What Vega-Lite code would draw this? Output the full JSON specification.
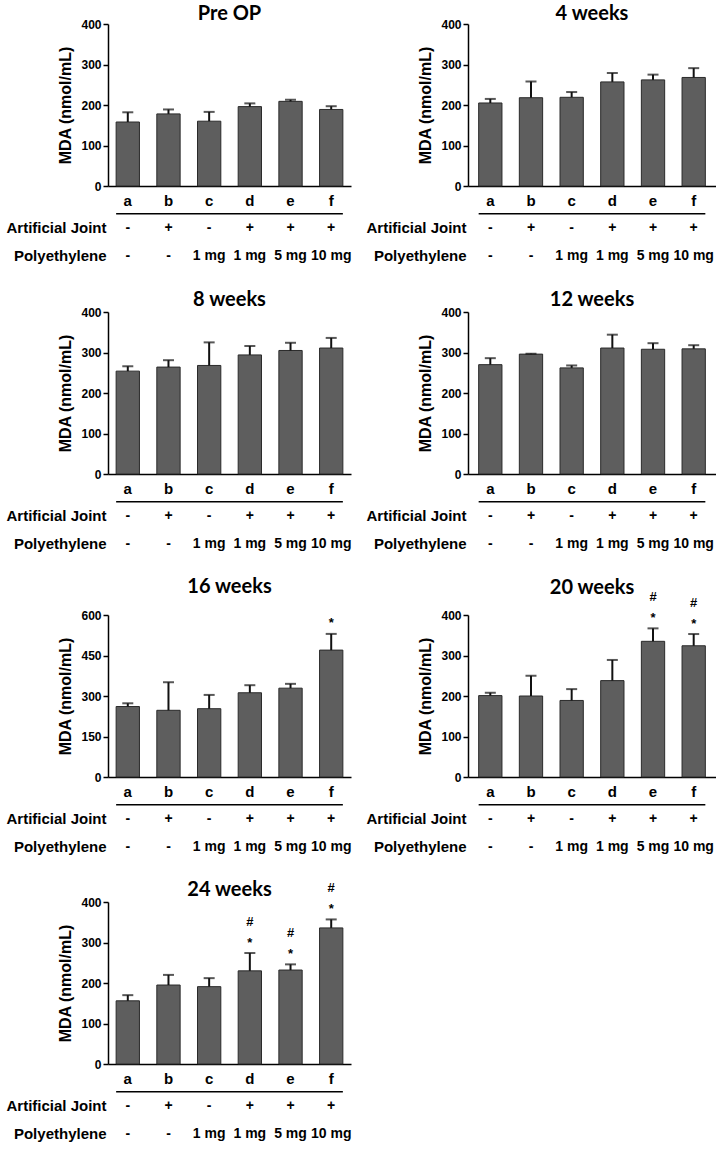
{
  "$schema": "https://vega.github.io/schema/vega-lite/v6.json",
  "padding": {"left": 5, "top": 3, "right": 2, "bottom": 5},
  "background": "white",
  "datasets": {
    "bars": [
      {"panel": "Pre OP", "group": "a", "mean": 158, "hi": 182, "star": "", "hash": ""},
      {"panel": "Pre OP", "group": "b", "mean": 178, "hi": 189, "star": "", "hash": ""},
      {"panel": "Pre OP", "group": "c", "mean": 160, "hi": 183, "star": "", "hash": ""},
      {"panel": "Pre OP", "group": "d", "mean": 196, "hi": 204, "star": "", "hash": ""},
      {"panel": "Pre OP", "group": "e", "mean": 209, "hi": 213, "star": "", "hash": ""},
      {"panel": "Pre OP", "group": "f", "mean": 189, "hi": 197, "star": "", "hash": ""},
      {"panel": "4 weeks", "group": "a", "mean": 205, "hi": 215, "star": "", "hash": ""},
      {"panel": "4 weeks", "group": "b", "mean": 218, "hi": 258, "star": "", "hash": ""},
      {"panel": "4 weeks", "group": "c", "mean": 219, "hi": 232, "star": "", "hash": ""},
      {"panel": "4 weeks", "group": "d", "mean": 257, "hi": 279, "star": "", "hash": ""},
      {"panel": "4 weeks", "group": "e", "mean": 262, "hi": 275, "star": "", "hash": ""},
      {"panel": "4 weeks", "group": "f", "mean": 268, "hi": 291, "star": "", "hash": ""},
      {"panel": "8 weeks", "group": "a", "mean": 254, "hi": 266, "star": "", "hash": ""},
      {"panel": "8 weeks", "group": "b", "mean": 264, "hi": 281, "star": "", "hash": ""},
      {"panel": "8 weeks", "group": "c", "mean": 268, "hi": 325, "star": "", "hash": ""},
      {"panel": "8 weeks", "group": "d", "mean": 294, "hi": 316, "star": "", "hash": ""},
      {"panel": "8 weeks", "group": "e", "mean": 305, "hi": 324, "star": "", "hash": ""},
      {"panel": "8 weeks", "group": "f", "mean": 311, "hi": 336, "star": "", "hash": ""},
      {"panel": "12 weeks", "group": "a", "mean": 270, "hi": 286, "star": "", "hash": ""},
      {"panel": "12 weeks", "group": "b", "mean": 296, "hi": 297, "star": "", "hash": ""},
      {"panel": "12 weeks", "group": "c", "mean": 262, "hi": 268, "star": "", "hash": ""},
      {"panel": "12 weeks", "group": "d", "mean": 311, "hi": 344, "star": "", "hash": ""},
      {"panel": "12 weeks", "group": "e", "mean": 308, "hi": 323, "star": "", "hash": ""},
      {"panel": "12 weeks", "group": "f", "mean": 309, "hi": 318, "star": "", "hash": ""},
      {"panel": "16 weeks", "group": "a", "mean": 261, "hi": 273, "star": "", "hash": ""},
      {"panel": "16 weeks", "group": "b", "mean": 247, "hi": 351, "star": "", "hash": ""},
      {"panel": "16 weeks", "group": "c", "mean": 253, "hi": 304, "star": "", "hash": ""},
      {"panel": "16 weeks", "group": "d", "mean": 312, "hi": 340, "star": "", "hash": ""},
      {"panel": "16 weeks", "group": "e", "mean": 329, "hi": 345, "star": "", "hash": ""},
      {"panel": "16 weeks", "group": "f", "mean": 470, "hi": 530, "star": "*", "hash": ""},
      {"panel": "20 weeks", "group": "a", "mean": 201, "hi": 208, "star": "", "hash": ""},
      {"panel": "20 weeks", "group": "b", "mean": 200, "hi": 250, "star": "", "hash": ""},
      {"panel": "20 weeks", "group": "c", "mean": 189, "hi": 217, "star": "", "hash": ""},
      {"panel": "20 weeks", "group": "d", "mean": 238, "hi": 289, "star": "", "hash": ""},
      {"panel": "20 weeks", "group": "e", "mean": 335, "hi": 367, "star": "*", "hash": "#"},
      {"panel": "20 weeks", "group": "f", "mean": 324, "hi": 353, "star": "*", "hash": "#"},
      {"panel": "24 weeks", "group": "a", "mean": 156, "hi": 170, "star": "", "hash": ""},
      {"panel": "24 weeks", "group": "b", "mean": 195, "hi": 220, "star": "", "hash": ""},
      {"panel": "24 weeks", "group": "c", "mean": 191, "hi": 212, "star": "", "hash": ""},
      {"panel": "24 weeks", "group": "d", "mean": 230, "hi": 274, "star": "*", "hash": "#"},
      {"panel": "24 weeks", "group": "e", "mean": 232, "hi": 246, "star": "*", "hash": "#"},
      {"panel": "24 weeks", "group": "f", "mean": 336, "hi": 357, "star": "*", "hash": "#"}
    ],
    "table": [
      {"group": "a", "row": "Artificial Joint", "val": "-"},
      {"group": "b", "row": "Artificial Joint", "val": "+"},
      {"group": "c", "row": "Artificial Joint", "val": "-"},
      {"group": "d", "row": "Artificial Joint", "val": "+"},
      {"group": "e", "row": "Artificial Joint", "val": "+"},
      {"group": "f", "row": "Artificial Joint", "val": "+"},
      {"group": "a", "row": "Polyethylene", "val": "-"},
      {"group": "b", "row": "Polyethylene", "val": "-"},
      {"group": "c", "row": "Polyethylene", "val": "1 mg"},
      {"group": "d", "row": "Polyethylene", "val": "1 mg"},
      {"group": "e", "row": "Polyethylene", "val": "5 mg"},
      {"group": "f", "row": "Polyethylene", "val": "10 mg"}
    ],
    "sep": [
      {"row": "Artificial Joint", "from": "a", "to": "f"}
    ]
  },
  "config": {
    "view": {"stroke": null},
    "font": "Liberation Sans",
    "title": {"font": "Lato", "fontSize": 20, "fontWeight": "bold", "color": "black", "anchor": "middle", "frame": "group"},
    "axis": {
      "grid": false, "domainColor": "black", "domainWidth": 1.5, "tickColor": "black", "tickWidth": 1.5,
      "labelColor": "black", "titleColor": "black", "labelFont": "Liberation Sans", "titleFont": "Liberation Sans",
      "labelFontWeight": "bold", "titleFontWeight": "bold"
    },
    "axisY": {"tickSize": 5, "labelFontSize": 12, "labelPadding": 2, "titleFontSize": 16, "titlePadding": 7},
    "axisX": {"ticks": false, "tickSize": 0, "labelFontSize": 15, "labelPadding": 7, "labelAngle": 0}
  },
  "columns": 2,
  "spacing": {"column": 13, "row": 16},
  "concat": [
    {
      "bounds": "flush", "spacing": 25,
      "vconcat": [
        {
          "title": {"text": "Pre OP", "offset": -5.5},
          "width": 243, "height": 162,
          "data": {"name": "bars"},
          "transform": [{"filter": "datum.panel === 'Pre OP'"}],
          "encoding": {"x": {"field": "group", "type": "nominal", "scale": {"paddingInner": 0.427, "paddingOuter": 0.2}, "axis": {"title": null}}},
          "layer": [
            {"mark": {"type": "bar", "fill": "#5e5e5e", "stroke": "#2a2a2a", "strokeWidth": 1}, "encoding": {"y": {"field": "mean", "type": "quantitative", "scale": {"domain": [0, 400]}, "axis": {"values": [0, 100, 200, 300, 400], "title": "MDA (nmol/mL)"}}}},
            {"mark": {"type": "rule", "color": "#111", "strokeWidth": 2}, "encoding": {"y": {"field": "mean", "type": "quantitative"}, "y2": {"field": "hi"}}},
            {"mark": {"type": "tick", "color": "#111", "thickness": 2, "size": 11}, "encoding": {"y": {"field": "hi", "type": "quantitative"}}},
            {"transform": [{"filter": "datum.star != ''"}], "mark": {"type": "text", "fontSize": 13, "fontWeight": "bold", "baseline": "alphabetic", "dy": -6.5, "color": "black"}, "encoding": {"y": {"field": "hi", "type": "quantitative"}, "text": {"field": "star"}}},
            {"transform": [{"filter": "datum.hash != ''"}], "mark": {"type": "text", "fontSize": 13, "fontWeight": "bold", "baseline": "alphabetic", "dy": -27.4, "color": "black"}, "encoding": {"y": {"field": "hi", "type": "quantitative"}, "text": {"field": "hash"}}}
          ]
        },
        {
          "width": 243, "height": 62,
          "layer": [
            {"data": {"name": "table"}, "mark": {"type": "text", "fontSize": 14, "fontWeight": "bold", "color": "black"},
             "encoding": {
               "x": {"field": "group", "type": "nominal", "scale": {"paddingInner": 0.427, "paddingOuter": 0.2}, "axis": null},
               "y": {"field": "row", "type": "nominal", "sort": ["Artificial Joint", "Polyethylene"], "scale": {"paddingInner": 0, "paddingOuter": 0.1}, "axis": {"title": null, "domain": false, "ticks": false, "labelFontSize": 15, "labelPadding": 2}},
               "text": {"field": "val"}}},
            {"data": {"name": "sep"}, "mark": {"type": "rule", "color": "black", "strokeWidth": 1.5},
             "encoding": {
               "x": {"field": "from", "type": "nominal", "bandPosition": 0},
               "x2": {"field": "to", "bandPosition": 1},
               "y": {"field": "row", "type": "nominal", "bandPosition": 0}}}
          ]
        }
      ]
    },
    {
      "bounds": "flush", "spacing": 25,
      "vconcat": [
        {
          "title": {"text": "4 weeks", "offset": -5.5},
          "width": 248, "height": 162,
          "data": {"name": "bars"},
          "transform": [{"filter": "datum.panel === '4 weeks'"}],
          "encoding": {"x": {"field": "group", "type": "nominal", "scale": {"paddingInner": 0.427, "paddingOuter": 0.262}, "axis": {"title": null}}},
          "layer": [
            {"mark": {"type": "bar", "fill": "#5e5e5e", "stroke": "#2a2a2a", "strokeWidth": 1}, "encoding": {"y": {"field": "mean", "type": "quantitative", "scale": {"domain": [0, 400]}, "axis": {"values": [0, 100, 200, 300, 400], "title": "MDA (nmol/mL)"}}}},
            {"mark": {"type": "rule", "color": "#111", "strokeWidth": 2}, "encoding": {"y": {"field": "mean", "type": "quantitative"}, "y2": {"field": "hi"}}},
            {"mark": {"type": "tick", "color": "#111", "thickness": 2, "size": 11}, "encoding": {"y": {"field": "hi", "type": "quantitative"}}},
            {"transform": [{"filter": "datum.star != ''"}], "mark": {"type": "text", "fontSize": 13, "fontWeight": "bold", "baseline": "alphabetic", "dy": -6.5, "color": "black"}, "encoding": {"y": {"field": "hi", "type": "quantitative"}, "text": {"field": "star"}}},
            {"transform": [{"filter": "datum.hash != ''"}], "mark": {"type": "text", "fontSize": 13, "fontWeight": "bold", "baseline": "alphabetic", "dy": -27.4, "color": "black"}, "encoding": {"y": {"field": "hi", "type": "quantitative"}, "text": {"field": "hash"}}}
          ]
        },
        {
          "width": 248, "height": 62,
          "layer": [
            {"data": {"name": "table"}, "mark": {"type": "text", "fontSize": 14, "fontWeight": "bold", "color": "black"},
             "encoding": {
               "x": {"field": "group", "type": "nominal", "scale": {"paddingInner": 0.427, "paddingOuter": 0.262}, "axis": null},
               "y": {"field": "row", "type": "nominal", "sort": ["Artificial Joint", "Polyethylene"], "scale": {"paddingInner": 0, "paddingOuter": 0.1}, "axis": {"title": null, "domain": false, "ticks": false, "labelFontSize": 15, "labelPadding": 2}},
               "text": {"field": "val"}}},
            {"data": {"name": "sep"}, "mark": {"type": "rule", "color": "black", "strokeWidth": 1.5},
             "encoding": {
               "x": {"field": "from", "type": "nominal", "bandPosition": 0},
               "x2": {"field": "to", "bandPosition": 1},
               "y": {"field": "row", "type": "nominal", "bandPosition": 0}}}
          ]
        }
      ]
    },
    {
      "bounds": "flush", "spacing": 25,
      "vconcat": [
        {
          "title": {"text": "8 weeks", "offset": -3.5},
          "width": 243, "height": 162,
          "data": {"name": "bars"},
          "transform": [{"filter": "datum.panel === '8 weeks'"}],
          "encoding": {"x": {"field": "group", "type": "nominal", "scale": {"paddingInner": 0.427, "paddingOuter": 0.2}, "axis": {"title": null}}},
          "layer": [
            {"mark": {"type": "bar", "fill": "#5e5e5e", "stroke": "#2a2a2a", "strokeWidth": 1}, "encoding": {"y": {"field": "mean", "type": "quantitative", "scale": {"domain": [0, 400]}, "axis": {"values": [0, 100, 200, 300, 400], "title": "MDA (nmol/mL)"}}}},
            {"mark": {"type": "rule", "color": "#111", "strokeWidth": 2}, "encoding": {"y": {"field": "mean", "type": "quantitative"}, "y2": {"field": "hi"}}},
            {"mark": {"type": "tick", "color": "#111", "thickness": 2, "size": 11}, "encoding": {"y": {"field": "hi", "type": "quantitative"}}},
            {"transform": [{"filter": "datum.star != ''"}], "mark": {"type": "text", "fontSize": 13, "fontWeight": "bold", "baseline": "alphabetic", "dy": -6.5, "color": "black"}, "encoding": {"y": {"field": "hi", "type": "quantitative"}, "text": {"field": "star"}}},
            {"transform": [{"filter": "datum.hash != ''"}], "mark": {"type": "text", "fontSize": 13, "fontWeight": "bold", "baseline": "alphabetic", "dy": -27.4, "color": "black"}, "encoding": {"y": {"field": "hi", "type": "quantitative"}, "text": {"field": "hash"}}}
          ]
        },
        {
          "width": 243, "height": 62,
          "layer": [
            {"data": {"name": "table"}, "mark": {"type": "text", "fontSize": 14, "fontWeight": "bold", "color": "black"},
             "encoding": {
               "x": {"field": "group", "type": "nominal", "scale": {"paddingInner": 0.427, "paddingOuter": 0.2}, "axis": null},
               "y": {"field": "row", "type": "nominal", "sort": ["Artificial Joint", "Polyethylene"], "scale": {"paddingInner": 0, "paddingOuter": 0.1}, "axis": {"title": null, "domain": false, "ticks": false, "labelFontSize": 15, "labelPadding": 2}},
               "text": {"field": "val"}}},
            {"data": {"name": "sep"}, "mark": {"type": "rule", "color": "black", "strokeWidth": 1.5},
             "encoding": {
               "x": {"field": "from", "type": "nominal", "bandPosition": 0},
               "x2": {"field": "to", "bandPosition": 1},
               "y": {"field": "row", "type": "nominal", "bandPosition": 0}}}
          ]
        }
      ]
    },
    {
      "bounds": "flush", "spacing": 25,
      "vconcat": [
        {
          "title": {"text": "12 weeks", "offset": -3.5},
          "width": 248, "height": 162,
          "data": {"name": "bars"},
          "transform": [{"filter": "datum.panel === '12 weeks'"}],
          "encoding": {"x": {"field": "group", "type": "nominal", "scale": {"paddingInner": 0.427, "paddingOuter": 0.262}, "axis": {"title": null}}},
          "layer": [
            {"mark": {"type": "bar", "fill": "#5e5e5e", "stroke": "#2a2a2a", "strokeWidth": 1}, "encoding": {"y": {"field": "mean", "type": "quantitative", "scale": {"domain": [0, 400]}, "axis": {"values": [0, 100, 200, 300, 400], "title": "MDA (nmol/mL)"}}}},
            {"mark": {"type": "rule", "color": "#111", "strokeWidth": 2}, "encoding": {"y": {"field": "mean", "type": "quantitative"}, "y2": {"field": "hi"}}},
            {"mark": {"type": "tick", "color": "#111", "thickness": 2, "size": 11}, "encoding": {"y": {"field": "hi", "type": "quantitative"}}},
            {"transform": [{"filter": "datum.star != ''"}], "mark": {"type": "text", "fontSize": 13, "fontWeight": "bold", "baseline": "alphabetic", "dy": -6.5, "color": "black"}, "encoding": {"y": {"field": "hi", "type": "quantitative"}, "text": {"field": "star"}}},
            {"transform": [{"filter": "datum.hash != ''"}], "mark": {"type": "text", "fontSize": 13, "fontWeight": "bold", "baseline": "alphabetic", "dy": -27.4, "color": "black"}, "encoding": {"y": {"field": "hi", "type": "quantitative"}, "text": {"field": "hash"}}}
          ]
        },
        {
          "width": 248, "height": 62,
          "layer": [
            {"data": {"name": "table"}, "mark": {"type": "text", "fontSize": 14, "fontWeight": "bold", "color": "black"},
             "encoding": {
               "x": {"field": "group", "type": "nominal", "scale": {"paddingInner": 0.427, "paddingOuter": 0.262}, "axis": null},
               "y": {"field": "row", "type": "nominal", "sort": ["Artificial Joint", "Polyethylene"], "scale": {"paddingInner": 0, "paddingOuter": 0.1}, "axis": {"title": null, "domain": false, "ticks": false, "labelFontSize": 15, "labelPadding": 2}},
               "text": {"field": "val"}}},
            {"data": {"name": "sep"}, "mark": {"type": "rule", "color": "black", "strokeWidth": 1.5},
             "encoding": {
               "x": {"field": "from", "type": "nominal", "bandPosition": 0},
               "x2": {"field": "to", "bandPosition": 1},
               "y": {"field": "row", "type": "nominal", "bandPosition": 0}}}
          ]
        }
      ]
    },
    {
      "bounds": "flush", "spacing": 25,
      "vconcat": [
        {
          "title": {"text": "16 weeks", "offset": 12},
          "width": 243, "height": 162,
          "data": {"name": "bars"},
          "transform": [{"filter": "datum.panel === '16 weeks'"}],
          "encoding": {"x": {"field": "group", "type": "nominal", "scale": {"paddingInner": 0.427, "paddingOuter": 0.2}, "axis": {"title": null}}},
          "layer": [
            {"mark": {"type": "bar", "fill": "#5e5e5e", "stroke": "#2a2a2a", "strokeWidth": 1}, "encoding": {"y": {"field": "mean", "type": "quantitative", "scale": {"domain": [0, 600]}, "axis": {"values": [0, 150, 300, 450, 600], "title": "MDA (nmol/mL)"}}}},
            {"mark": {"type": "rule", "color": "#111", "strokeWidth": 2}, "encoding": {"y": {"field": "mean", "type": "quantitative"}, "y2": {"field": "hi"}}},
            {"mark": {"type": "tick", "color": "#111", "thickness": 2, "size": 11}, "encoding": {"y": {"field": "hi", "type": "quantitative"}}},
            {"transform": [{"filter": "datum.star != ''"}], "mark": {"type": "text", "fontSize": 13, "fontWeight": "bold", "baseline": "alphabetic", "dy": -6.5, "color": "black"}, "encoding": {"y": {"field": "hi", "type": "quantitative"}, "text": {"field": "star"}}},
            {"transform": [{"filter": "datum.hash != ''"}], "mark": {"type": "text", "fontSize": 13, "fontWeight": "bold", "baseline": "alphabetic", "dy": -27.4, "color": "black"}, "encoding": {"y": {"field": "hi", "type": "quantitative"}, "text": {"field": "hash"}}}
          ]
        },
        {
          "width": 243, "height": 62,
          "layer": [
            {"data": {"name": "table"}, "mark": {"type": "text", "fontSize": 14, "fontWeight": "bold", "color": "black"},
             "encoding": {
               "x": {"field": "group", "type": "nominal", "scale": {"paddingInner": 0.427, "paddingOuter": 0.2}, "axis": null},
               "y": {"field": "row", "type": "nominal", "sort": ["Artificial Joint", "Polyethylene"], "scale": {"paddingInner": 0, "paddingOuter": 0.1}, "axis": {"title": null, "domain": false, "ticks": false, "labelFontSize": 15, "labelPadding": 2}},
               "text": {"field": "val"}}},
            {"data": {"name": "sep"}, "mark": {"type": "rule", "color": "black", "strokeWidth": 1.5},
             "encoding": {
               "x": {"field": "from", "type": "nominal", "bandPosition": 0},
               "x2": {"field": "to", "bandPosition": 1},
               "y": {"field": "row", "type": "nominal", "bandPosition": 0}}}
          ]
        }
      ]
    },
    {
      "bounds": "flush", "spacing": 25,
      "vconcat": [
        {
          "title": {"text": "20 weeks", "offset": -6.9},
          "width": 248, "height": 162,
          "data": {"name": "bars"},
          "transform": [{"filter": "datum.panel === '20 weeks'"}],
          "encoding": {"x": {"field": "group", "type": "nominal", "scale": {"paddingInner": 0.427, "paddingOuter": 0.262}, "axis": {"title": null}}},
          "layer": [
            {"mark": {"type": "bar", "fill": "#5e5e5e", "stroke": "#2a2a2a", "strokeWidth": 1}, "encoding": {"y": {"field": "mean", "type": "quantitative", "scale": {"domain": [0, 400]}, "axis": {"values": [0, 100, 200, 300, 400], "title": "MDA (nmol/mL)"}}}},
            {"mark": {"type": "rule", "color": "#111", "strokeWidth": 2}, "encoding": {"y": {"field": "mean", "type": "quantitative"}, "y2": {"field": "hi"}}},
            {"mark": {"type": "tick", "color": "#111", "thickness": 2, "size": 11}, "encoding": {"y": {"field": "hi", "type": "quantitative"}}},
            {"transform": [{"filter": "datum.star != ''"}], "mark": {"type": "text", "fontSize": 13, "fontWeight": "bold", "baseline": "alphabetic", "dy": -6.5, "color": "black"}, "encoding": {"y": {"field": "hi", "type": "quantitative"}, "text": {"field": "star"}}},
            {"transform": [{"filter": "datum.hash != ''"}], "mark": {"type": "text", "fontSize": 13, "fontWeight": "bold", "baseline": "alphabetic", "dy": -27.4, "color": "black"}, "encoding": {"y": {"field": "hi", "type": "quantitative"}, "text": {"field": "hash"}}}
          ]
        },
        {
          "width": 248, "height": 62,
          "layer": [
            {"data": {"name": "table"}, "mark": {"type": "text", "fontSize": 14, "fontWeight": "bold", "color": "black"},
             "encoding": {
               "x": {"field": "group", "type": "nominal", "scale": {"paddingInner": 0.427, "paddingOuter": 0.262}, "axis": null},
               "y": {"field": "row", "type": "nominal", "sort": ["Artificial Joint", "Polyethylene"], "scale": {"paddingInner": 0, "paddingOuter": 0.1}, "axis": {"title": null, "domain": false, "ticks": false, "labelFontSize": 15, "labelPadding": 2}},
               "text": {"field": "val"}}},
            {"data": {"name": "sep"}, "mark": {"type": "rule", "color": "black", "strokeWidth": 1.5},
             "encoding": {
               "x": {"field": "from", "type": "nominal", "bandPosition": 0},
               "x2": {"field": "to", "bandPosition": 1},
               "y": {"field": "row", "type": "nominal", "bandPosition": 0}}}
          ]
        }
      ]
    },
    {
      "bounds": "flush", "spacing": 25,
      "vconcat": [
        {
          "title": {"text": "24 weeks", "offset": -18.4},
          "width": 243, "height": 162,
          "data": {"name": "bars"},
          "transform": [{"filter": "datum.panel === '24 weeks'"}],
          "encoding": {"x": {"field": "group", "type": "nominal", "scale": {"paddingInner": 0.427, "paddingOuter": 0.2}, "axis": {"title": null}}},
          "layer": [
            {"mark": {"type": "bar", "fill": "#5e5e5e", "stroke": "#2a2a2a", "strokeWidth": 1}, "encoding": {"y": {"field": "mean", "type": "quantitative", "scale": {"domain": [0, 400]}, "axis": {"values": [0, 100, 200, 300, 400], "title": "MDA (nmol/mL)"}}}},
            {"mark": {"type": "rule", "color": "#111", "strokeWidth": 2}, "encoding": {"y": {"field": "mean", "type": "quantitative"}, "y2": {"field": "hi"}}},
            {"mark": {"type": "tick", "color": "#111", "thickness": 2, "size": 11}, "encoding": {"y": {"field": "hi", "type": "quantitative"}}},
            {"transform": [{"filter": "datum.star != ''"}], "mark": {"type": "text", "fontSize": 13, "fontWeight": "bold", "baseline": "alphabetic", "dy": -6.5, "color": "black"}, "encoding": {"y": {"field": "hi", "type": "quantitative"}, "text": {"field": "star"}}},
            {"transform": [{"filter": "datum.hash != ''"}], "mark": {"type": "text", "fontSize": 13, "fontWeight": "bold", "baseline": "alphabetic", "dy": -27.4, "color": "black"}, "encoding": {"y": {"field": "hi", "type": "quantitative"}, "text": {"field": "hash"}}}
          ]
        },
        {
          "width": 243, "height": 62,
          "layer": [
            {"data": {"name": "table"}, "mark": {"type": "text", "fontSize": 14, "fontWeight": "bold", "color": "black"},
             "encoding": {
               "x": {"field": "group", "type": "nominal", "scale": {"paddingInner": 0.427, "paddingOuter": 0.2}, "axis": null},
               "y": {"field": "row", "type": "nominal", "sort": ["Artificial Joint", "Polyethylene"], "scale": {"paddingInner": 0, "paddingOuter": 0.1}, "axis": {"title": null, "domain": false, "ticks": false, "labelFontSize": 15, "labelPadding": 2}},
               "text": {"field": "val"}}},
            {"data": {"name": "sep"}, "mark": {"type": "rule", "color": "black", "strokeWidth": 1.5},
             "encoding": {
               "x": {"field": "from", "type": "nominal", "bandPosition": 0},
               "x2": {"field": "to", "bandPosition": 1},
               "y": {"field": "row", "type": "nominal", "bandPosition": 0}}}
          ]
        }
      ]
    }
  ]
}
